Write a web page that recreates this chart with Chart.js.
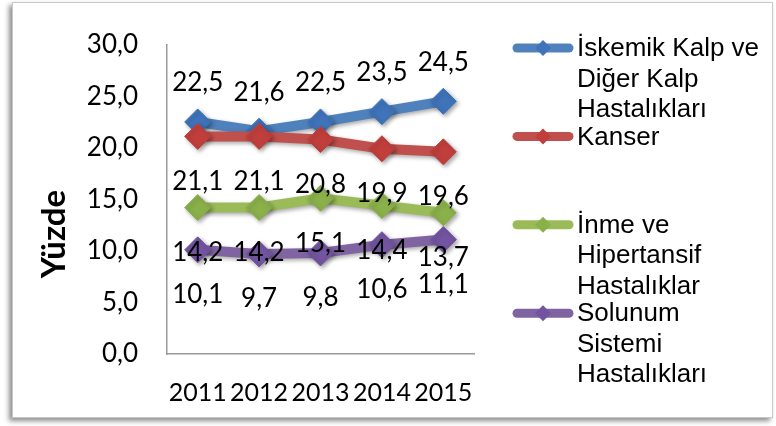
<!DOCTYPE html>
<html>
<head>
<meta charset="utf-8">
<script src="https://cdn.jsdelivr.net/npm/chart.js@4"></script>
<style>
  html, body { margin: 0; padding: 0; background: #fff; }
  #wrap { width: 776px; height: 426px; position: relative; }
</style>
</head>
<body>
<div id="wrap"><canvas id="chart" width="776" height="426"></canvas></div>
<script>
// ── data ──
const YEARS = ['2011', '2012', '2013', '2014', '2015'];
const KALP    = [22.5, 21.6, 22.5, 23.5, 24.5];
const KANSER  = [21.1, 21.1, 20.8, 19.9, 19.6];
const INME    = [14.2, 14.2, 15.1, 14.4, 13.7];
const SOLUNUM = [10.1, 9.7, 9.8, 10.6, 11.1];
const SERIES_NAMES = [
  ['İskemik Kalp ve', 'Diğer Kalp', 'Hastalıkları'],
  ['Kanser'],
  ['İnme ve', 'Hipertansif', 'Hastalıklar'],
  ['Solunum', 'Sistemi', 'Hastalıkları']
];
const Y_TITLE = 'Yüzde';

// styles
const LINE_COLORS  = ['#4F81BD', '#C0504D', '#9BBB59', '#8064A2'];
const POINT_COLORS = ['#3F73BA', '#C03F3C', '#8AB04A', '#7254A0'];
const LABEL_SHIFT  = [-39, 45, 45, 45];   // data label offset from point (px)
const NUM_FONT = 'Lato, "Open Sans", sans-serif';
const fmt = v => v.toFixed(1).replace('.', ',');

const frame = {
  id: 'frame',
  beforeDraw(chart) {
    const { ctx } = chart;
    ctx.save();
    ctx.shadowColor = 'rgba(0,0,0,.45)';
    ctx.shadowBlur = 5;
    ctx.shadowOffsetX = -3;
    ctx.shadowOffsetY = 3;
    ctx.fillStyle = '#fff';
    ctx.fillRect(12, 2, 761, 416);
    ctx.restore();
    ctx.save();
    ctx.strokeStyle = '#c8c8c8';
    ctx.lineWidth = 1;
    ctx.strokeRect(12.5, 2.5, 760, 415);
    ctx.restore();
  }
};

const lineShadow = {
  id: 'lineShadow',
  beforeDatasetsDraw(chart) {
    const { ctx } = chart;
    ctx.save();
    ctx.shadowColor = 'rgba(0,0,0,.35)';
    ctx.shadowBlur = 4;
    ctx.shadowOffsetX = 2;
    ctx.shadowOffsetY = 2;
  },
  afterDatasetsDraw(chart) { chart.ctx.restore(); }
};

const extras = {
  id: 'extras',
  afterDraw(chart) {
    const { ctx } = chart;
    ctx.save();
    // data labels
    ctx.fillStyle = '#000';
    ctx.font = '26px ' + NUM_FONT;
    ctx.textAlign = 'center';
    ctx.textBaseline = 'middle';
    chart.data.datasets.forEach((ds, i) => {
      chart.getDatasetMeta(i).data.forEach((pt, j) => {
        ctx.fillText(fmt(ds.data[j]), pt.x, pt.y + LABEL_SHIFT[i]);
      });
    });
    // y title
    ctx.save();
    ctx.translate(54, 234);
    ctx.rotate(-Math.PI / 2);
    ctx.font = 'bold 33px ' + NUM_FONT;
    ctx.fillText(Y_TITLE, 0, 0);
    ctx.restore();
    // legend
    ctx.textAlign = 'left';
    ctx.font = '26px "Liberation Sans", Arial, sans-serif';
    chart.data.datasets.forEach((ds, i) => {
      const y = 48 + i * 88.4;
      ctx.strokeStyle = ds.borderColor;
      ctx.lineWidth = 9;
      ctx.lineCap = 'round';
      ctx.beginPath();
      ctx.moveTo(517, y);
      ctx.lineTo(569, y);
      ctx.stroke();
      ctx.fillStyle = ds.pointBackgroundColor;
      ctx.beginPath();
      ctx.moveTo(543, y - 8);
      ctx.lineTo(551, y);
      ctx.lineTo(543, y + 8);
      ctx.lineTo(535, y);
      ctx.closePath();
      ctx.fill();
      ctx.fillStyle = '#000';
      SERIES_NAMES[i].forEach((line, k) => ctx.fillText(line, 577, y + 1 + k * 30.5));
    });
    ctx.restore();
  }
};

const SERIES = [KALP, KANSER, INME, SOLUNUM];

new Chart(document.getElementById('chart'), {
  type: 'line',
  data: {
    labels: YEARS,
    datasets: SERIES.map((data, i) => ({
      label: SERIES_NAMES[i].join(' '),
      data,
      order: SERIES.length - 1 - i,
      borderColor: LINE_COLORS[i],
      borderWidth: 10,
      pointStyle: 'rectRot',
      pointRadius: 13,
      pointBackgroundColor: POINT_COLORS[i],
      pointBorderColor: POINT_COLORS[i],
      pointBorderWidth: 1,
      tension: 0
    }))
  },
  options: {
    responsive: false,
    animation: false,
    events: [],
    layout: { padding: { top: 33, right: 302, left: 0, bottom: 0 } },
    plugins: { legend: { display: false }, tooltip: { enabled: false } },
    scales: {
      x: {
        offset: true,
        grid: { display: false, drawTicks: false },
        border: { display: true, color: '#9a9a9a', width: 1.5 },
        ticks: { color: '#000', font: { family: NUM_FONT, size: 25 }, padding: 24, maxRotation: 0, autoSkip: false },
        afterFit(s) { s.height = 72; }
      },
      y: {
        min: 0, max: 30,
        grid: { display: false, drawTicks: false },
        border: { display: true, color: '#9a9a9a', width: 1.5 },
        ticks: { stepSize: 5, color: '#000', font: { family: NUM_FONT, size: 26 }, padding: 29, callback: v => fmt(v) },
        afterFit(s) { s.width = 167; }
      }
    }
  },
  plugins: [frame, lineShadow, extras]
});
</script>
</body>
</html>
